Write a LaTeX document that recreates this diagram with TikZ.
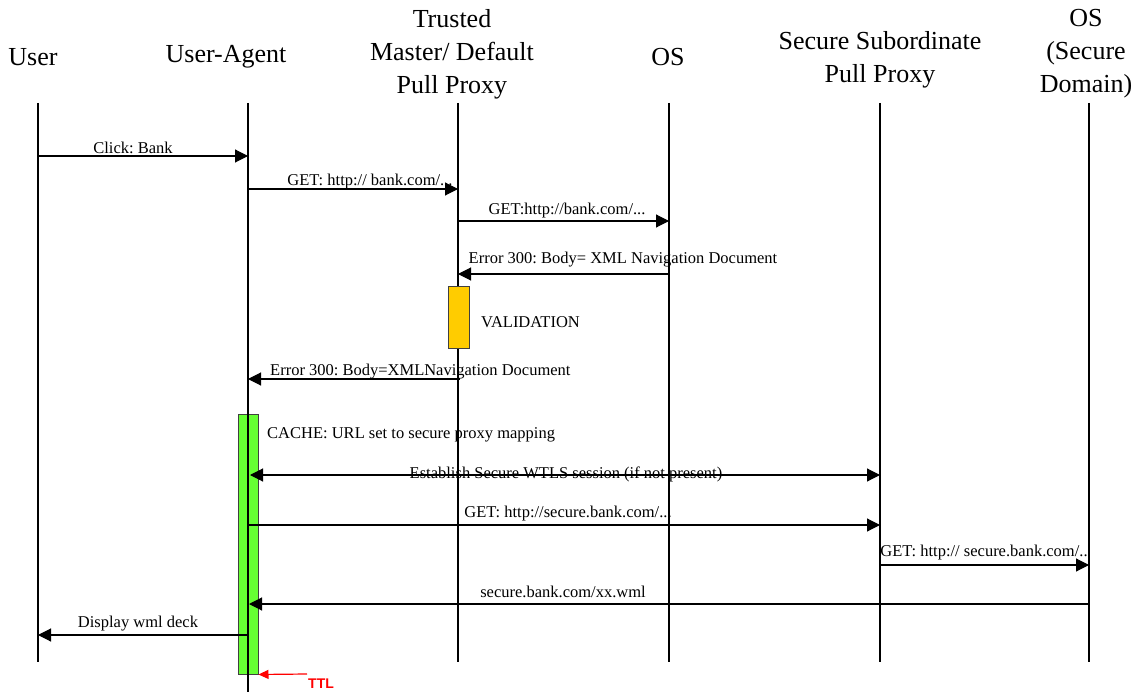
\documentclass[tikz,border=0pt]{standalone}
\usepackage{fontspec}
\setmainfont{Liberation Serif}
\newfontfamily\ttlfont{Liberation Sans}
\usetikzlibrary{arrows.meta}
\definecolor{boxgreen}{HTML}{66FF33}
\definecolor{boxyellow}{HTML}{FFCC00}
\definecolor{boxedge}{HTML}{404040}
\begin{document}
\frenchspacing
\begin{tikzpicture}[x=1pt,y=-1pt,
  life/.style={line width=1.1pt},
  msg/.style={line width=1.1pt,-{Triangle[length=13pt,width=13pt]}},
  dmsg/.style={line width=1.1pt,{Triangle[length=13pt,width=13pt]}-{Triangle[length=13pt,width=13pt]}},
  head/.style={font=\fontsize{26}{33}\selectfont, inner sep=0pt, align=center},
  lbl/.style={font=\fontsize{16.5}{20}\selectfont, inner sep=0pt, anchor=base},
  actbox/.style={draw=boxedge, line width=1pt},
]
\useasboundingbox (0,0) rectangle (1134,692);

% headers
\node[head] (hUser) at (33,57) {User};
\node[head] (hUA) at (226,57) {User-Agent};
\node[head] (hTP) at (452,54) {Trusted\\Master/ Default\\Pull Proxy};
\node[head] (hOS) at (668,57) {OS};
\node[head] (hSSP) at (880,60) {Secure Subordinate\\Pull Proxy};
\node[head] (hOSS) at (1086,54) {OS\\(Secure\\Domain)};

% lifeline ends
\coordinate (uT) at (38,103);   \coordinate (uB) at (38,662);
\coordinate (aT) at (248,103);  \coordinate (aB) at (248,692);
\coordinate (tT) at (458,103);  \coordinate (tB) at (458,662);
\coordinate (oT) at (669,103);  \coordinate (oB) at (669,662);
\coordinate (sT) at (880,103);  \coordinate (sB) at (880,662);
\coordinate (xT) at (1089,103); \coordinate (xB) at (1089,662);

\draw[life] (uT) -- (uB);
\draw[life] (tT) -- (tB);
\draw[life] (oT) -- (oB);
\draw[life] (sT) -- (sB);
\draw[life] (xT) -- (xB);

% activation boxes
\node[actbox, fill=boxyellow, minimum width=21pt, minimum height=61pt, inner sep=0pt] (valbox) at (459,317.5) {};
\node[actbox, fill=boxgreen, minimum width=20pt, minimum height=260pt, inner sep=0pt] (cachebox) at (248,544) {};

\draw[life] (aT) -- (aB);

% message end points
\coordinate (m1a) at (38,156);   \coordinate (m1b) at (248,156);
\coordinate (m2a) at (248,189);  \coordinate (m2b) at (458,189);
\coordinate (m3a) at (458,221);  \coordinate (m3b) at (669,221);
\coordinate (m4a) at (669,274);  \coordinate (m4b) at (458,274);
\coordinate (m5a) at (460,379);  \coordinate (m5b) at (248,379);
\coordinate (m6a) at (250,475);  \coordinate (m6b) at (880,475);
\coordinate (m7a) at (248,525);  \coordinate (m7b) at (880,525);
\coordinate (m8a) at (880,565);  \coordinate (m8b) at (1089,565);
\coordinate (m9a) at (1089,604); \coordinate (m9b) at (249,604);
\coordinate (m10a) at (248,635); \coordinate (m10b) at (38,635);

\draw[msg] (m1a) -- (m1b);
\draw[msg] (m2a) -- (m2b);
\draw[msg] (m3a) -- (m3b);
\draw[msg] (m4a) -- (m4b);
\draw[msg] (m5a) -- (m5b);
\draw[dmsg] (m6a) -- (m6b);
\draw[msg] (m7a) -- (m7b);
\draw[msg] (m8a) -- (m8b);
\draw[msg] (m9a) -- (m9b);
\draw[msg] (m10a) -- (m10b);

% labels
\node[lbl] (l1) at (133,154) {Click: Bank};
\node[lbl] (l2) at (370,186) {GET: http:// bank.com/...};
\node[lbl] (l3) at (567,215) {GET:http://bank.com/...};
\node[lbl] (l4) at (623,264) {Error 300: Body= XML Navigation Document};
\node[lbl, anchor=base west] (l5) at (481,327) {VALIDATION};
\node[lbl, anchor=base west] (l6) at (270,375) {Error 300: Body=XMLNavigation Document};
\node[lbl, anchor=base west] (l7) at (267,438) {CACHE: URL set to secure proxy mapping};
\node[lbl] (l8) at (566,478) {Establish Secure WTLS session (if not present)};
\node[lbl] (l9) at (568,517) {GET: http://secure.bank.com/...};
\node[lbl] (l10) at (984,556) {GET: http:// secure.bank.com/..};
\node[lbl] (l11) at (563,597) {secure.bank.com/xx.wml};
\node[lbl] (l12) at (138,627) {Display wml deck};

% TTL
\coordinate (ttlTail) at (307,674);
\draw[red, line width=1.2pt, -{Triangle[length=10pt,width=9pt]}] (ttlTail) -- (cachebox.south east);
\node[text=red, font=\ttlfont\bfseries\fontsize{14}{16}\selectfont, inner sep=0pt, anchor=base west] (ttl) at (308,688) {TTL};
\end{tikzpicture}
\end{document}
